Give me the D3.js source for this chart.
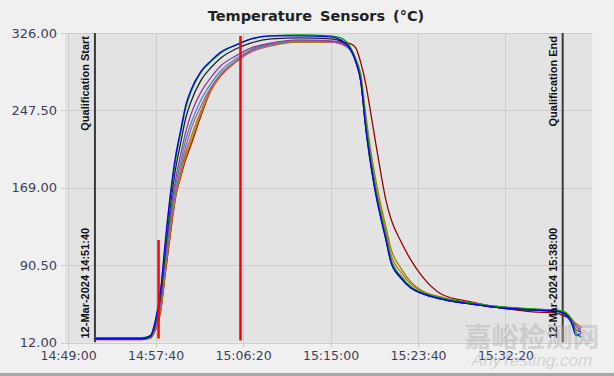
<!DOCTYPE html>
<html><head><meta charset="utf-8">
<script src="https://cdn.jsdelivr.net/npm/d3@7"></script>
<style>html,body{margin:0;padding:0;background:#f0f0f0;overflow:hidden}</style>
</head><body><svg id="c" width="614" height="376"></svg>
<script>
const chartTitle = "Temperature Sensors (°C)";
const sampleTimes = ["14:51:40","14:56:20","14:57:10","14:57:40","14:58:10","14:58:40","14:59:10","14:59:40","15:00:10","15:00:40",
  "15:01:10","15:02:10","15:03:10","15:04:10","15:05:40","15:07:10","15:09:10","15:12:00","15:15:00","15:16:00",
  "15:17:00","15:17:30","15:18:00","15:18:30","15:19:00","15:19:30","15:20:00","15:20:30","15:21:00","15:22:00",
  "15:23:00","15:24:00","15:26:00","15:29:00","15:32:00","15:35:00","15:37:10","15:38:10","15:38:50","15:39:20","15:39:50"];
const sensorDarkRed = [15,15,17,25,43,84,124,160,180,198,212,242,268,283,297,309,315,317,317,317,315,311,296,274,244,213,183,156,137,114,95,80,61,53,47,43,42,39,35,30,27];
const sensorOrange  = [16,16,16,26,45,87,127,161,181,201,215,244,268,283,297,308,314,317,317,315,309,298,282,238,201,170,146,124,101,83,71,64,57,52,47,45,44,42,36,31,28];
const sensorOlive   = [17,17,17,27,47,90,130,163,184,205,220,247,270,284,297,307,313,317,317,316,310,300,284,243,206,176,151,129,107,87,73,65,58,52,48,46,45,43,37,30,27];
const sensorMagenta = [17,17,17,28,50,94,134,166,189,211,228,252,271,285,298,307,314,318,317,315,308,297,278,232,195,164,140,118,95,78,68,63,57,52,48,45,44,42,36,29,27];
const sensorTeal    = [16,16,17,29,52,97,138,171,195,218,234,258,275,288,300,309,315,318,318,316,308,296,276,228,191,161,137,115,93,77,67,62,56,51,47,45,44,41,32,22,17];
const sensorPurple  = [16,16,18,30,55,102,144,178,203,226,243,266,281,293,303,311,316,319,318,316,309,297,278,231,194,164,140,118,95,78,68,62,56,51,47,45,44,42,35,28,25];
const sensorBlack   = [16,16,18,32,59,108,153,189,215,240,256,278,291,301,310,316,320,321,320,318,310,298,278,230,193,163,139,117,94,77,67,62,56,51,47,45,44,42,34,25,23];
const sensorGreen   = [17,17,19,34,63,114,161,198,225,250,266,286,297,306,314,320,323,324,323,321,311,299,280,234,196,165,141,119,96,79,68,63,57,52,48,46,45,43,35,21,18];
const sensorBlue    = [16,16,19,35,65,118,165,202,228,253,268,287,298,307,314,320,323,323,322,319,309,297,277,229,192,162,138,116,93,77,67,62,56,51,47,45,44,41,33,19,22];
const seriesList = [sensorDarkRed, sensorOrange, sensorOlive, sensorMagenta, sensorTeal, sensorPurple, sensorBlack, sensorGreen, sensorBlue];
const seriesColors = ["#990000","#c87000","#8c8c00","#cc44cc","#2a9d9d","#9933aa","#222222","#00a000","#0000ff"];
const yTickValues = [12, 90.5, 169, 247.5, 326];
const xTickLabels = ["14:49:00","14:57:40","15:06:20","15:15:00","15:23:40","15:32:20"];
const xDomain = ["14:48:42","15:40:56"];
const qualStartTime = "14:51:40", qualEndTime = "15:38:00";
const qualDate = "12-Mar-2024";
const markerTimes = ["14:57:58","15:06:05"];
const markerLow = [16, 14];
const markerHigh = [116, 323];

const parse = s => d3.timeParse("%Y-%m-%d %H:%M:%S")("2024-03-12 " + s);
const W = 614, H = 376;
const m = {l:65, r:21.7, t:33, b:33.5};
const svg = d3.select("#c");
svg.append("rect").attr("width",W).attr("height",H).attr("fill","#f0f0f0");
svg.append("rect").attr("x",0).attr("y",373).attr("width",W).attr("height",3).attr("fill","#a6a6a6");

const x = d3.scaleTime().domain(xDomain.map(parse)).range([m.l, W - m.r]);
const y = d3.scaleLinear().domain([12, 326]).range([H - m.b, m.t]);

svg.append("rect").attr("x",m.l).attr("y",m.t).attr("width",W-m.r-m.l).attr("height",H-m.b-m.t).attr("fill","#e3e3e3");

// grid
const grid = svg.append("g").attr("stroke","#cdcdcd").attr("stroke-width",1);
yTickValues.forEach(v => grid.append("line").attr("x1",m.l-4).attr("x2",W-m.r).attr("y1",Math.round(y(v))+0.5).attr("y2",Math.round(y(v))+0.5));
xTickLabels.forEach(t => grid.append("line").attr("x1",Math.round(x(parse(t)))+0.5).attr("x2",Math.round(x(parse(t)))+0.5).attr("y1",m.t).attr("y2",H-m.b+5));

const fontTick = "'DejaVu Sans', Verdana, sans-serif";
// axes
const yAxis = d3.axisLeft(y).tickValues(yTickValues).tickFormat(d3.format(".2f")).tickSize(0).tickPadding(8);
const gy = svg.append("g").attr("transform",`translate(${m.l},0)`).call(yAxis);
gy.select(".domain").remove();
gy.selectAll("text").attr("font-family",fontTick).attr("font-size",13).attr("fill","#3e3e5c");

const xAxis = d3.axisBottom(x).tickValues(xTickLabels.map(parse)).tickFormat(d3.timeFormat("%H:%M:%S")).tickSize(0).tickPadding(9);
const gx = svg.append("g").attr("transform",`translate(0,${H-m.b})`).call(xAxis);
gx.select(".domain").remove();
gx.selectAll("text").attr("font-family",fontTick).attr("font-size",12.5).attr("fill","#3e3e5c");

// title
svg.append("text").attr("x",316).attr("y",21).attr("text-anchor","middle")
  .attr("font-family",fontTick).attr("font-weight","bold").attr("font-size",14.5).attr("word-spacing",3)
  .attr("fill","#222").text(chartTitle);

// clip
svg.append("clipPath").attr("id","pc").append("rect").attr("x",m.l).attr("y",m.t).attr("width",W-m.r-m.l).attr("height",H-m.b-m.t);
const plot = svg.append("g").attr("clip-path","url(#pc)");

// qualification lines
const qlab = "'Liberation Sans', Arial, sans-serif";
[[qualStartTime,"Qualification Start"],[qualEndTime,"Qualification End"]].forEach(([t,lab]) => {
  const xx = x(parse(t));
  plot.append("line").attr("x1",xx).attr("x2",xx).attr("y1",m.t).attr("y2",H-m.b).attr("stroke","#3a3a3a").attr("stroke-width",2);
  svg.append("text").attr("transform",`translate(${xx-6},${m.t+3}) rotate(-90)`).attr("text-anchor","end")
    .attr("font-family",qlab).attr("font-weight","bold").attr("font-size",11).attr("fill","#111").text(lab);
  svg.append("text").attr("transform",`translate(${xx-6},${H-m.b-4}) rotate(-90)`).attr("text-anchor","start")
    .attr("font-family",qlab).attr("font-weight","bold").attr("font-size",11).attr("fill","#111").text(qualDate + " " + t);
});

// series
const line = d3.line().curve(d3.curveMonotoneX).x((d,i) => x(parse(sampleTimes[i]))).y(d => y(d));
seriesList.forEach((s,k) => {
  plot.append("path").datum(s).attr("d",line).attr("fill","none").attr("stroke",seriesColors[k]).attr("stroke-width",1.3);
});

// red markers
markerTimes.forEach((t,i) => {
  const xx = x(parse(t));
  plot.append("line").attr("x1",xx).attr("x2",xx).attr("y1",y(markerLow[i])).attr("y2",y(markerHigh[i])).attr("stroke","#ff0000").attr("stroke-width",2.5);
});

// watermark
svg.append("text").attr("x",532).attr("y",347).attr("text-anchor","middle").attr("font-family","'Noto Sans CJK SC'").attr("font-weight","bold")
  .attr("font-size",27).attr("fill","#b0b0b0").attr("opacity",0.45).text("嘉峪检测网");
svg.append("text").attr("x",532).attr("y",366).attr("text-anchor","middle").attr("font-family","'Liberation Sans', Arial").attr("font-style","italic")
  .attr("font-size",17).attr("fill","#b0b0b0").attr("opacity",0.45).text("AnyTesting.com");
</script></body></html>
